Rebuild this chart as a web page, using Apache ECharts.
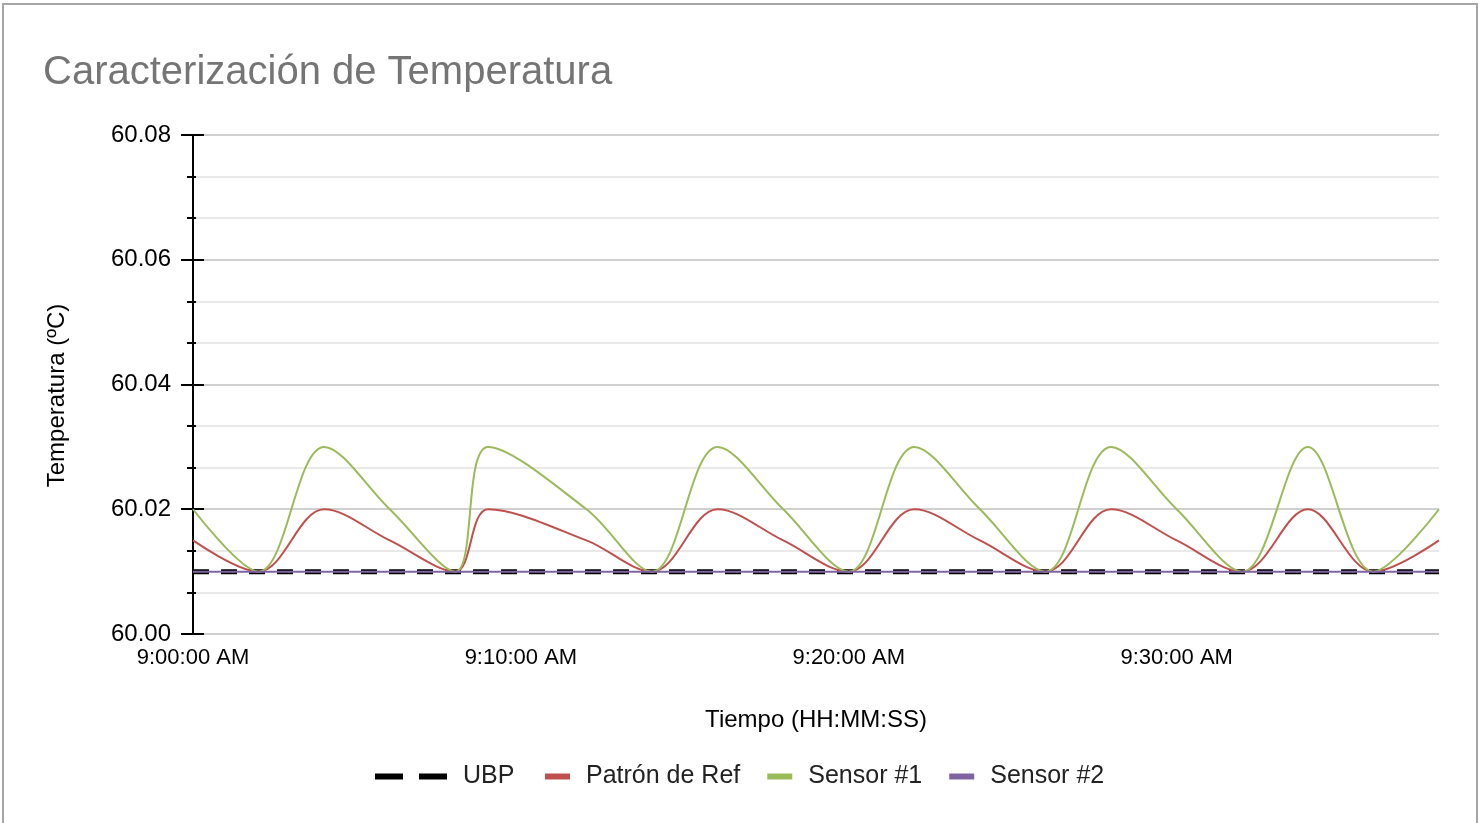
<!DOCTYPE html>
<html>
<head>
<meta charset="utf-8">
<script src="https://cdn.jsdelivr.net/npm/echarts@6/dist/echarts.min.js"></script>
<style>
  body { margin: 0; background: #fff; }
  #chart { width: 1484px; height: 823px; }
</style>
</head>
<body>
<div id="chart"></div>
<script>
// sample times (HH:MM:SS) and readings in ºC
var times = ['9:00:00', '9:02:00', '9:04:00', '9:06:00', '9:08:00', '9:09:00', '9:12:00',
    '9:14:00', '9:16:00', '9:18:00', '9:20:00', '9:22:00', '9:24:00', '9:26:00',
    '9:28:00', '9:30:00', '9:32:00', '9:34:00', '9:36:00', '9:38:00'];
var ubp = [60.01, 60.01, 60.01, 60.01, 60.01, 60.01, 60.01, 60.01, 60.01, 60.01,
    60.01, 60.01, 60.01, 60.01, 60.01, 60.01, 60.01, 60.01, 60.01, 60.01];
var patronRef = [60.015, 60.01, 60.02, 60.015, 60.01, 60.02, 60.015, 60.01, 60.02, 60.015,
    60.01, 60.02, 60.015, 60.01, 60.02, 60.015, 60.01, 60.02, 60.01, 60.015];
var sensor1 = [60.02, 60.01, 60.03, 60.02, 60.01, 60.03, 60.02, 60.01, 60.03, 60.02,
    60.01, 60.03, 60.02, 60.01, 60.03, 60.02, 60.01, 60.03, 60.01, 60.02];
var sensor2 = [60.01, 60.01, 60.01, 60.01, 60.01, 60.01, 60.01, 60.01, 60.01, 60.01,
    60.01, 60.01, 60.01, 60.01, 60.01, 60.01, 60.01, 60.01, 60.01, 60.01];
var xTicks = ['9:00:00 AM', '9:10:00 AM', '9:20:00 AM', '9:30:00 AM'];

// minutes after 9:00
function toMinutes(t) {
    var p = t.split(':');
    return (parseInt(p[0]) - 9) * 60 + parseInt(p[1]) + parseInt(p[2]) / 60;
}

function pairs(values) {
    return values.map(function (v, i) { return [toMinutes(times[i]), v]; });
}

var chartDom = document.getElementById('chart');
var myChart = echarts.init(chartDom);
var option;

var fontFamily = 'Liberation Sans, Arial, sans-serif';
var smoothness = 0.35;

option = {
    animation: false,
    backgroundColor: '#fff',
    title: {
        text: 'Caracterización de Temperatura',
        left: 38,
        top: 48,
        textStyle: { color: '#757575', fontSize: 40, fontWeight: 'normal', fontFamily: fontFamily }
    },
    graphic: [{
        type: 'rect',
        shape: { x: 3, y: 4, width: 1474, height: 840 },
        style: { fill: 'none', stroke: '#a6a6a6', lineWidth: 2 },
        silent: true
    }],
    legend: [{
        left: 370,
        top: 759,
        itemWidth: 72,
        itemHeight: 6,
        icon: 'path://M0,0h28v6h-28z M44,0h28v6h-28z',
        data: ['UBP'],
        textStyle: { color: '#222', fontSize: 25, fontFamily: fontFamily, padding: [0, 0, 0, 11] }
    }, {
        left: 540,
        top: 759,
        itemWidth: 25,
        itemHeight: 6,
        itemGap: 27,
        icon: 'rect',
        data: ['Patrón de Ref', 'Sensor #1', 'Sensor #2'],
        textStyle: { color: '#222', fontSize: 25, fontFamily: fontFamily, padding: [0, 0, 0, 11] }
    }],
    grid: { left: 193, right: 45, top: 135, bottom: 189 },
    xAxis: {
        type: 'value',
        min: 0,
        max: 38,
        interval: 10,
        name: 'Tiempo (HH:MM:SS)',
        nameLocation: 'middle',
        nameGap: 74,
        nameTextStyle: { color: '#000', fontSize: 24, fontFamily: fontFamily },
        axisLine: { show: false },
        axisTick: { show: false },
        splitLine: { show: false },
        axisLabel: {
            color: '#000',
            fontSize: 22,
            fontFamily: fontFamily,
            margin: 13,
            showMaxLabel: false,
            formatter: function (v) { return xTicks[Math.round(v / 10)] || ''; }
        }
    },
    yAxis: [{
        type: 'value',
        min: 60.00,
        max: 60.08,
        interval: 0.02,
        name: 'Temperatura (ºC)',
        nameLocation: 'middle',
        nameGap: 124,
        nameTextStyle: { color: '#000', fontSize: 24, fontFamily: fontFamily, padding: [0, 22, 0, 0] },
        axisLine: { show: true, lineStyle: { color: '#000', width: 2 } },
        axisTick: { show: true, length: 12, lineStyle: { color: '#000', width: 2 } },
        minorTick: { show: true, splitNumber: 3, length: 6, lineStyle: { color: '#000', width: 2 } },
        splitLine: { show: true, lineStyle: { color: '#d0d0d0', width: 2 } },
        minorSplitLine: { show: true, lineStyle: { color: '#e9e9e9', width: 2 } },
        axisLabel: {
            color: '#000',
            fontSize: 24,
            fontFamily: fontFamily,
            margin: 22,
            formatter: function (v) { return v.toFixed(2); }
        }
    }, {
        // inner half of the crossing ticks
        type: 'value',
        position: 'left',
        min: 60.00,
        max: 60.08,
        interval: 0.02,
        axisLine: { show: false },
        axisTick: { show: true, inside: true, length: 11, lineStyle: { color: '#000', width: 2 } },
        minorTick: { show: true, splitNumber: 3, length: 3, lineStyle: { color: '#000', width: 2 } },
        splitLine: { show: false },
        axisLabel: { show: false }
    }],
    series: [
        {
            name: 'UBP',
            type: 'line',
            data: pairs(ubp),
            showSymbol: false,
            itemStyle: { color: '#000' },
            lineStyle: { color: '#000', width: 5, type: [16, 12] }
        },
        {
            name: 'Patrón de Ref',
            type: 'line',
            data: pairs(patronRef),
            smooth: smoothness,
            showSymbol: false,
            itemStyle: { color: '#C0504D' },
            lineStyle: { color: '#C0504D', width: 2 }
        },
        {
            name: 'Sensor #1',
            type: 'line',
            data: pairs(sensor1),
            smooth: smoothness,
            showSymbol: false,
            itemStyle: { color: '#9BBB59' },
            lineStyle: { color: '#9BBB59', width: 2 }
        },
        {
            name: 'Sensor #2',
            type: 'line',
            data: pairs(sensor2),
            showSymbol: false,
            itemStyle: { color: '#8064A2' },
            lineStyle: { color: '#8064A2', width: 2 }
        }
    ]
};

option && myChart.setOption(option);
</script>
</body>
</html>
